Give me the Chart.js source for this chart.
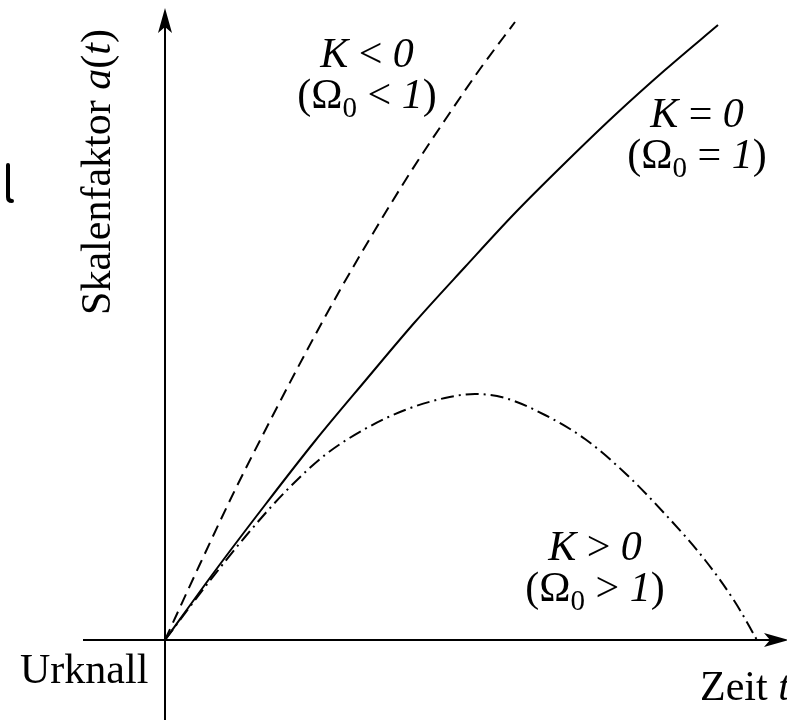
<!DOCTYPE html>
<html>
<head>
<meta charset="utf-8">
<script src="https://cdn.jsdelivr.net/npm/chart.js@4/dist/chart.umd.min.js"></script>
<style>
html,body{margin:0;padding:0;background:#fff;}
#wrap{width:787px;height:720px;position:relative;overflow:hidden;}
#c{position:absolute;left:0;top:0;}
.lbl{position:absolute;line-height:0;white-space:pre;font-family:"Liberation Serif";font-size:42px;color:#000;}
.lbl i{font-style:italic;}
.lbl .sub{font-size:29px;position:relative;top:9px;}
.rot{position:absolute;width:0;height:0;transform:rotate(-90deg);transform-origin:0 0;}
</style>
</head>
<body>
<div id="wrap"><canvas id="c" width="787" height="720"></canvas></div>
<script>
// Zeit t (arbitrary units) and Skalenfaktor a(t)
const tFlat   = [0, 0.5, 1.0, 1.5, 2.0, 2.5, 3.0, 3.5, 4.0, 4.5, 5.0, 5.53];
const aFlat   = [0, 0.69, 1.35, 1.99, 2.59, 3.18, 3.73, 4.27, 4.77, 5.25, 5.70, 6.15];
const tOpen   = [0, 0.35, 0.70, 1.05, 1.40, 1.75, 2.10, 2.45, 2.80, 3.15, 3.50];
const aOpen   = [0, 0.76, 1.50, 2.19, 2.86, 3.50, 4.10, 4.67, 5.20, 5.71, 6.18];
const tClosed = [0, 0.4, 0.8, 1.2, 1.6, 2.0, 2.4, 2.8, 3.1, 3.4, 3.8, 4.2, 4.6, 5.0, 5.4, 5.7, 5.92];
const aClosed = [0, 0.53, 1.03, 1.48, 1.85, 2.11, 2.30, 2.42, 2.46, 2.42, 2.25, 2.01, 1.67, 1.26, 0.80, 0.38, 0];

const yTitle = "Skalenfaktor ";
const xTitle = "Zeit ";
const originLabel = "Urknall";
const OMEGA = "\u03A9";
const curveLabels = [
  {k: "K", rel: "<", at: [2.02, 5.73]},
  {k: "K", rel: "=", at: [5.32, 5.13]},
  {k: "K", rel: ">", at: [4.30, 0.80]}
];

const pts = (ts, as) => ts.map((t, i) => ({x: t, y: as[i]}));
const ASC = 14; // baseline offset for 42px Liberation Serif with line-height 0

const axes = {
  id: 'axes',
  afterDatasetsDraw(chart) {
    const ctx = chart.ctx;
    const ox = chart.scales.x.getPixelForValue(0), oy = chart.scales.y.getPixelForValue(0);
    ctx.save();
    ctx.strokeStyle = '#000';
    ctx.fillStyle = '#000';
    ctx.lineWidth = 2;
    ctx.beginPath(); ctx.moveTo(83, oy); ctx.lineTo(780, oy); ctx.stroke();
    ctx.beginPath();
    ctx.moveTo(789, oy); ctx.lineTo(764, oy - 7); ctx.lineTo(770, oy); ctx.lineTo(764, oy + 7); ctx.closePath(); ctx.fill();
    ctx.beginPath(); ctx.moveTo(ox, 720); ctx.lineTo(ox, 20); ctx.stroke();
    ctx.beginPath();
    ctx.moveTo(ox, 8); ctx.lineTo(ox - 7, 33); ctx.lineTo(ox, 27); ctx.lineTo(ox + 7, 33); ctx.closePath(); ctx.fill();
    ctx.lineWidth = 4; ctx.lineCap = 'round';
    ctx.beginPath(); ctx.moveTo(8, 165); ctx.lineTo(8, 197); ctx.quadraticCurveTo(8, 201, 12, 201); ctx.stroke();
    ctx.restore();
  }
};

const chart = new Chart(document.getElementById('c'), {
  type: 'scatter',
  data: {
    datasets: [
      {data: pts(tFlat, aFlat), showLine: true, borderColor: '#000', borderWidth: 2, pointRadius: 0, cubicInterpolationMode: 'monotone'},
      {data: pts(tOpen, aOpen), showLine: true, borderColor: '#000', borderWidth: 2, borderDash: [12, 7], pointRadius: 0, cubicInterpolationMode: 'monotone'},
      {data: pts(tClosed, aClosed), showLine: true, borderColor: '#000', borderWidth: 2, borderDash: [13, 5, 2, 5], pointRadius: 0, cubicInterpolationMode: 'monotone'}
    ]
  },
  options: {
    responsive: false,
    animation: false,
    layout: {padding: 0},
    plugins: {legend: {display: false}, tooltip: {enabled: false}},
    scales: {
      x: {type: 'linear', min: -1.65, max: 6.22, display: false},
      y: {type: 'linear', min: -0.80, max: 6.40, display: false}
    }
  },
  plugins: [axes]
});

// text labels (real text)
const wrap = document.getElementById('wrap');
function el(tag, cls, parent) { const e = document.createElement(tag); if (cls) e.className = cls; parent.appendChild(e); return e; }
function addText(parent, parts) {
  parts.forEach(p => {
    const s = el(p.it ? 'i' : 'span', p.sub ? 'sub' : '', parent);
    s.textContent = p.s;
  });
}
function label(parts, x, baseline, center) {
  const d = el('div', 'lbl', wrap);
  d.style.left = x + 'px';
  d.style.top = (baseline - ASC) + 'px';
  if (center) d.style.transform = 'translateX(-50%)';
  addText(d, parts);
  return d;
}

label([{s: originLabel}], 20, 683, false);
label([{s: xTitle}, {s: 't', it: true}], 700, 700, false);

const rot = el('div', 'rot', wrap);
rot.style.left = '110px';
rot.style.top = '172px';
const yt = el('div', 'lbl', rot);
yt.style.left = '0px';
yt.style.top = (-ASC) + 'px';
yt.style.transform = 'translateX(-50%)';
addText(yt, [{s: yTitle}, {s: 'a', it: true}, {s: '('}, {s: 't', it: true}, {s: ')'}]);

const xs = chart.scales.x, ys = chart.scales.y;
curveLabels.forEach(l => {
  const cx = xs.getPixelForValue(l.at[0]);
  const by = ys.getPixelForValue(l.at[1]);
  label([{s: l.k, it: true}, {s: ' ' + l.rel + ' '}, {s: '0', it: true}], cx, by, true);
  label([{s: '(' + OMEGA}, {s: '0', sub: true}, {s: ' ' + l.rel + ' '}, {s: '1', it: true}, {s: ')'}], cx, by + 41, true);
});
</script>
</body>
</html>
